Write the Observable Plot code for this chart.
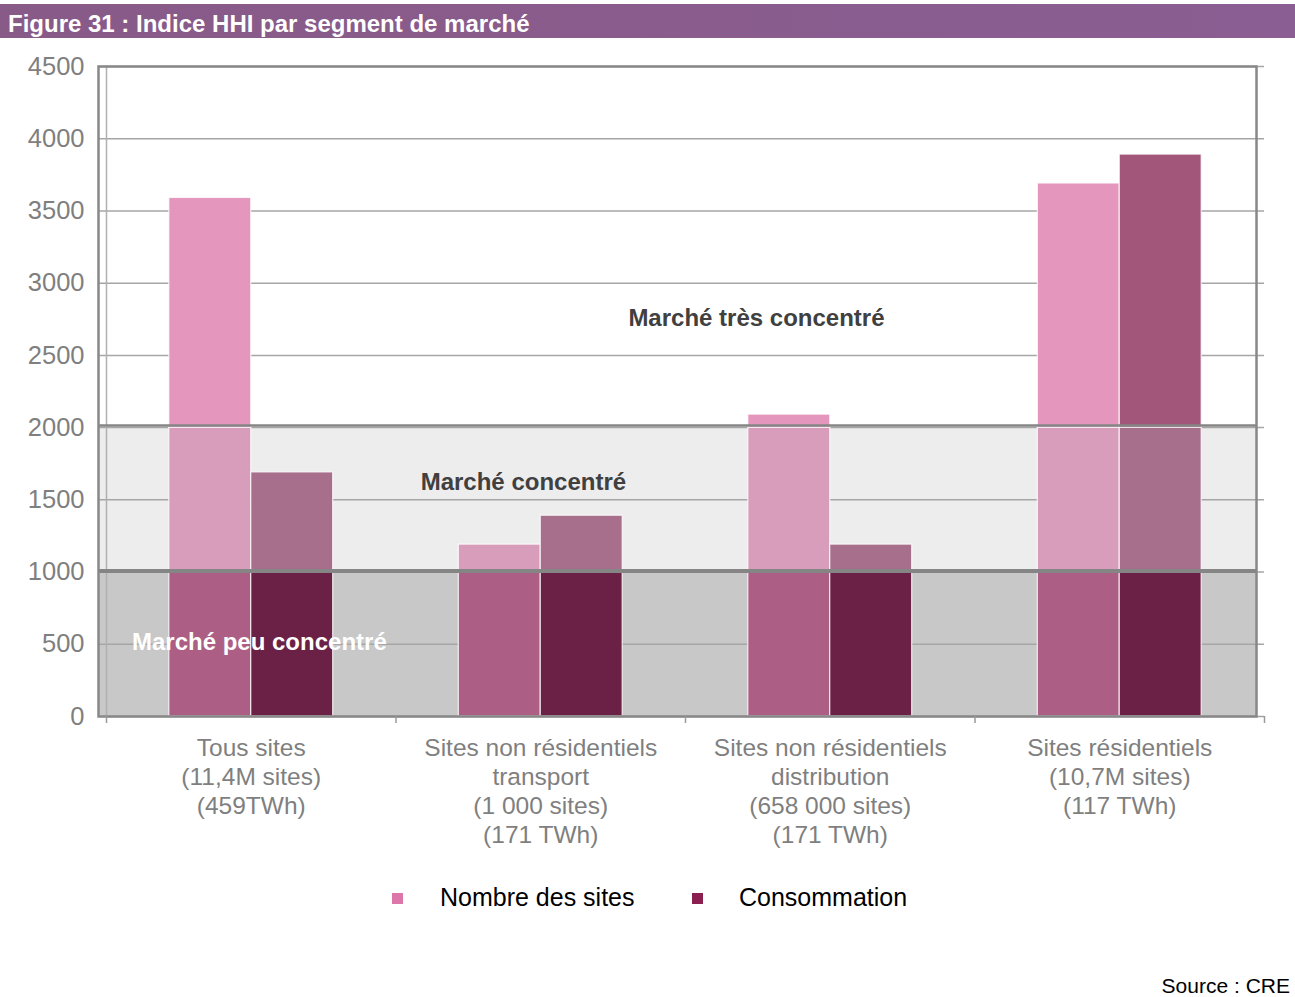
<!DOCTYPE html>
<html>
<head>
<meta charset="utf-8">
<script src="https://cdn.jsdelivr.net/npm/d3@7"></script>
<script src="https://cdn.jsdelivr.net/npm/@observablehq/plot@0.6"></script>
<style>
  body { margin: 0; background: #fff; width: 1295px; height: 997px; position: relative; overflow: hidden; font-family: "Liberation Sans", Arial, sans-serif; }
  #title { position: absolute; left: 0; top: 4px; width: 1295px; height: 34px; background: linear-gradient(to right, #885a88, #8a5e92); color: #fff; font-weight: bold; font-size: 24px; line-height: 39px; padding-left: 8px; box-sizing: border-box; overflow: hidden; }
  #chart { position: absolute; left: 0; top: 40px; }
  #legend { position: absolute; top: 882px; left: 0; width: 1295px; height: 30px; font-size: 25px; color: #000; }
  .sw { position: absolute; width: 11px; height: 11px; top: 11px; }
  .lt { position: absolute; top: 0; line-height: 30px; }
  #source { position: absolute; right: 5px; top: 974px; font-size: 21px; color: #000; }
</style>
</head>
<body>
<div id="title">Figure 31 : Indice HHI par segment de marché</div>
<div id="chart"></div>
<div id="legend"></div>
<div id="source">Source : CRE</div>
<script>
// ---- data ----
const categories = [
  "Tous sites\n(11,4M sites)\n(459TWh)",
  "Sites non résidentiels\ntransport\n(1 000 sites)\n(171 TWh)",
  "Sites non résidentiels\ndistribution\n(658 000 sites)\n(171 TWh)",
  "Sites résidentiels\n(10,7M sites)\n(117 TWh)"
];
const seriesNames = ["Nombre des sites", "Consommation"];
const nombreSites = [3590, 1190, 2090, 3690];
const consommation = [1690, 1390, 1190, 3890];
const yTicks = [0, 500, 1000, 1500, 2000, 2500, 3000, 3500, 4000, 4500];
const bandThresholds = [0, 1000, 2000, 4500];
const bandNames = ["Marché peu concentré", "Marché concentré", "Marché très concentré"];

// ---- styles ----
const segColors = {
  "Nombre des sites": ["#ac5e84", "#d99dbc", "#e496bc"],
  "Consommation": ["#6b2146", "#a76f8b", "#a25679"]
};
const bandFills = ["#c8c8c8", "#ededed", "#ffffff"];
const legendColors = ["#dd77aa", "#8b2050"];

// ---- derived tables ----
const seriesValues = [nombreSites, consommation];
const barW = 0.283;
const segments = [];
seriesValues.forEach((vals, s) => {
  vals.forEach((v, i) => {
    for (let b = 0; b < bandThresholds.length - 1; b++) {
      const lo = bandThresholds[b], hi = bandThresholds[b + 1];
      if (v > lo) {
        segments.push({
          i, series: seriesNames[s], band: b,
          x1: s === 0 ? i - barW : i,
          x2: s === 0 ? i : i + barW,
          y1: lo, y2: Math.min(v, hi),
          fill: segColors[seriesNames[s]][b]
        });
      }
    }
  });
});
const bands = bandThresholds.slice(0, -1).map((lo, b) => ({lo, hi: bandThresholds[b + 1], fill: bandFills[b]}));
const catTable = categories.map((label, i) => ({i, label}));
const boundaries = d3.range(categories.length + 1).map(k => k - 0.5);
const labelTable = [
  {text: bandNames[2], x: 1.745, y: 2755, color: "#404040"},
  {text: bandNames[1], x: 0.94, y: 1620, color: "#404040"},
  {text: bandNames[0], x: 0.028, y: 512, color: "#ffffff"}
];

const chart = Plot.plot({
  width: 1295,
  height: 820,
  marginLeft: 106,
  marginRight: 31,
  marginTop: 26,
  marginBottom: 144,
  style: {fontFamily: "Liberation Sans, Arial, sans-serif", background: "transparent"},
  x: {domain: [-0.5, categories.length - 0.5], axis: null},
  y: {domain: [0, 4500], axis: null},
  marks: [
    Plot.rectY(bands, {y1: "lo", y2: "hi", fill: "fill", dx: -8}),
    Plot.ruleY(yTicks.filter(t => t > 0), {stroke: "#a6a6a6", strokeWidth: 1.5, insetLeft: -8}),
    Plot.ruleX([-0.5], {stroke: "#b0b0b0", strokeWidth: 1.5}),
    Plot.rect(segments, {x1: "x1", x2: "x2", y1: "y1", y2: "y2", fill: "fill", stroke: "#ffffff", strokeWidth: 1.2, strokeOpacity: 0.8}),
    Plot.ruleY([2000], {stroke: "#858585", strokeWidth: 2.5, dx: -8, dy: -2}),
    Plot.ruleY([1000], {stroke: "#858585", strokeWidth: 4, dx: -8, dy: -1}),
    Plot.ruleY([0], {stroke: "#a0a0a0", strokeWidth: 1.5}),
    Plot.frame({stroke: "#888888", strokeWidth: 2.5, dx: -8}),
    Plot.axisX({ticks: boundaries, tickFormat: () => "", tickSize: 7, stroke: "#999999", strokeWidth: 1.5}),
    Plot.axisY({ticks: yTicks, tickSize: 0, tickPadding: 22, fontSize: 25.5, fill: "#7f7f7f", tickFormat: d => String(d)}),
    Plot.text(catTable, {x: "i", y: 0, text: "label", lineAnchor: "top", dy: 19, fontSize: 24.5, fill: "#7f7f7f", lineHeight: 1.18}),
    Plot.text(labelTable, {x: "x", y: "y", text: "text", fill: "color", fontSize: 24, fontWeight: "bold"})
  ]
});
document.getElementById("chart").appendChild(chart);

// legend
const legend = document.getElementById("legend");
const legendPos = [{sw: 392, tx: 440}, {sw: 692, tx: 739}];
seriesNames.forEach((name, k) => {
  const sw = document.createElement("div");
  sw.className = "sw";
  sw.style.left = legendPos[k].sw + "px";
  sw.style.background = legendColors[k];
  legend.appendChild(sw);
  const t = document.createElement("div");
  t.className = "lt";
  t.style.left = legendPos[k].tx + "px";
  t.textContent = name;
  legend.appendChild(t);
});
</script>
</body>
</html>
